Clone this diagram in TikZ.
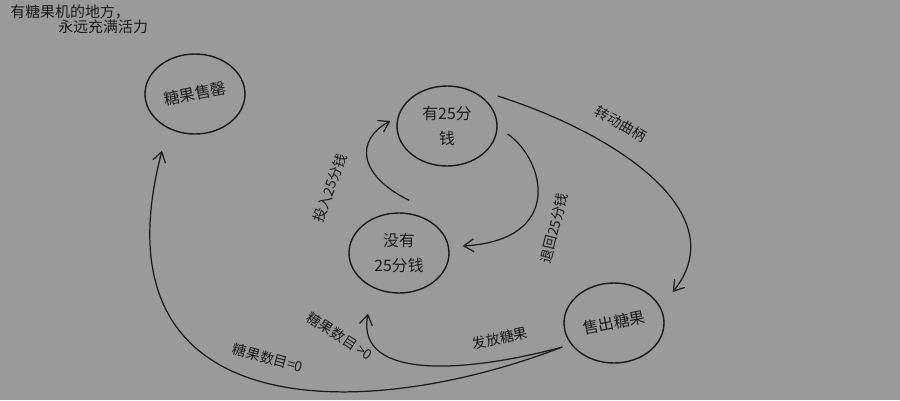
\documentclass[tikz,border=0pt]{standalone}
\usepackage{fontspec}
\usepackage{graphicx}
\usepackage{tikz}
\usetikzlibrary{arrows.meta,shapes.geometric,calc}
\newfontfamily\cjk{Noto Sans CJK SC}
\definecolor{paper}{HTML}{9A9A9A}
\definecolor{pencil}{HTML}{1A1A1A}
\tikzset{
  state/.style = {ellipse, draw=pencil, line width=0.8pt, minimum width=2cm, minimum height=1.6cm,
                  inner sep=0pt, align=center, text=pencil, font=\fontsize{9}{14}\selectfont\cjk},
  fl/.style    = {-{Straight Barb[length=2mm,width=2.6mm]}, line width=0.7pt, draw=pencil},
  lbl/.style   = {font=\fontsize{8}{10}\selectfont\cjk, text=pencil, inner sep=0pt},
  motto/.style = {font=\fontsize{8.5}{10}\selectfont\cjk, text=pencil, inner sep=0pt, anchor=west},
}
\begin{document}
\begin{tikzpicture}[x=0.02cm, y=-0.02cm]
\useasboundingbox (0,0) rectangle (900,400);
\fill[paper] (0,0) rectangle (900,400);
\node[motto] (m1) at (10,12) {有糖果机的地方，};
\node[motto] (m2) at (58,27) {永远充满活力};
\node[state] (soldout) at (195,94)  {\rotatebox{11}{糖果售罄}};
\node[state] (hasq)    at (447,126) {有25分\\钱};
\node[state] (noq)     at (399,253) {没有\\25分钱};
\node[state] (sold)    at (614,323) {\rotatebox{11}{售出糖果}};
\draw[fl] ($(noq.north)+(10,-12)$) .. controls (358,175) and (355,140) .. ($(hasq.west)+(-6,-5)$);
\draw[fl] ($(hasq.east)+(10,8)$) .. controls (545,160) and (565,240) .. ($(noq.east)+(13,-7)$);
\draw[fl] ($(hasq.east)+(0,-30)$) .. controls (620,135) and (735,215) .. ($(sold.east)+(8,-31)$);
\draw[fl] ($(sold.west)+(-1,24)$) .. controls (470,372) and (355,382) .. ($(noq.south)+(-31,20)$);
\draw[fl] ($(sold.west)+(-1,24)$) .. controls (360,425) and (90,425) .. ($(soldout.south)+(-33,16)$);
\node[lbl, rotate=69]  (insq)   at (330,188) {投入25分钱};
\node[lbl, rotate=76]  (ejectq) at (554,228) {退回25分钱};
\node[lbl, rotate=-30] (turn)   at (621,124) {转动曲柄};
\node[lbl, rotate=12]  (disp)   at (500,338) {发放糖果};
\node[lbl, rotate=-33] (more)   at (340,336) {糖果数目 >0};
\node[lbl, rotate=-15] (none)   at (268,358) {糖果数目=0};
\end{tikzpicture}
\end{document}
